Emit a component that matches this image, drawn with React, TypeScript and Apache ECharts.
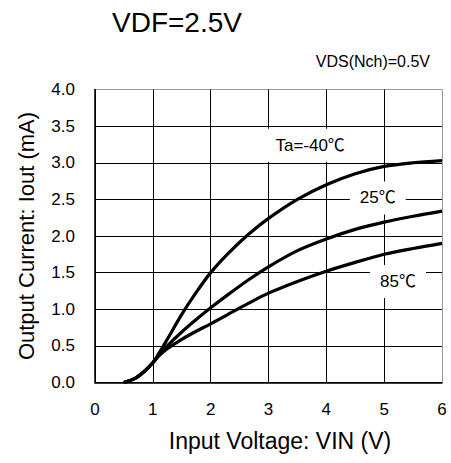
import React, { useEffect, useRef } from "react";
import * as echarts from "echarts";

const vin = [0.5, 0.7, 0.85, 1.0, 1.1, 1.25, 1.5, 1.75, 2.0, 2.3, 2.65, 3.0, 3.5, 4.0, 4.5, 5.0, 5.5, 6.0];
const iMinus40 = [0, 0.06, 0.15, 0.27, 0.39, 0.59, 0.93, 1.23, 1.5, 1.76, 2.02, 2.24, 2.5, 2.7, 2.85, 2.95, 3.0, 3.03];
const i25 = [0, 0.06, 0.15, 0.27, 0.37, 0.5, 0.69, 0.86, 1.02, 1.2, 1.4, 1.58, 1.8, 1.96, 2.09, 2.19, 2.27, 2.34];
const i85 = [0, 0.06, 0.15, 0.27, 0.36, 0.46, 0.59, 0.7, 0.8, 0.93, 1.08, 1.22, 1.38, 1.52, 1.64, 1.75, 1.83, 1.9];
const seriesNames = ["Ta=-40℃", "25℃", "85℃"];
const labelAnchors: [number, number][] = [[3.72, 3.24], [4.89, 2.52], [5.24, 1.38]];

const FONT = "'Liberation Sans', Arial, 'Noto Sans CJK JP', sans-serif";

export default function App() {
  const ref = useRef<HTMLDivElement>(null);
  useEffect(() => {
    if (!ref.current) return;
    const chart = echarts.init(ref.current, null, { renderer: "svg" });
    const curves = [iMinus40, i25, i85];
    const series: any[] = curves.map((arr, k) => ({
      type: "line",
      name: seriesNames[k],
      data: vin.map((x, i) => [x, arr[i]]),
      smooth: 0.3,
      showSymbol: false,
      lineStyle: { color: "#000", width: 3.2 },
      z: 3,
    }));
    series.push({
      type: "scatter",
      data: [],
      silent: true,
      z: 5,
      markPoint: {
        symbol: "rect",
        symbolSize: 0,
        data: labelAnchors.map((c, k) => ({
          coord: c,
          label: {
            show: true,
            position: "inside",
            formatter: seriesNames[k],
            color: "#000",
            fontSize: 17,
            fontFamily: FONT,
            backgroundColor: "#fff",
            padding: [8, 10, 8, 10],
          },
        })),
      },
    });
    const ySplitColors = ["#000", "#000", "#000", "#000", "#000", "#000", "#000", "#000", "#999"];
    const xSplitColors = ["#000", "#000", "#000", "#000", "#000", "#000", "#999"];
    chart.setOption({
      animation: false,
      backgroundColor: "#fff",
      textStyle: { fontFamily: FONT },
      grid: { left: 95, right: 9, top: 89.5, bottom: 80.5, containLabel: false },
      xAxis: {
        type: "value",
        min: 0,
        max: 6,
        interval: 1,
        axisLine: { show: true, lineStyle: { color: "#000", width: 1.5 } },
        axisTick: { show: false },
        axisLabel: { color: "#000", fontSize: 17, fontFamily: FONT, margin: 18 },
        splitLine: { show: true, lineStyle: { color: xSplitColors, width: 1 } },
      },
      yAxis: {
        type: "value",
        min: 0,
        max: 4,
        interval: 0.5,
        name: "Output Current: Iout (mA)",
        nameLocation: "middle",
        nameGap: 58,
        nameTextStyle: { color: "#000", fontSize: 22, fontFamily: FONT },
        axisLine: { show: true, lineStyle: { color: "#000", width: 1.5 } },
        axisTick: { show: false },
        axisLabel: {
          color: "#000",
          fontSize: 17,
          fontFamily: FONT,
          margin: 20,
          formatter: (v: number) => v.toFixed(1),
        },
        splitLine: { show: true, lineStyle: { color: ySplitColors, width: 1 } },
      },
      graphic: [
        {
          type: "text",
          left: 112,
          top: 8,
          style: { text: "VDF=2.5V", fontSize: 28, fontFamily: FONT, fill: "#000" },
        },
        {
          type: "text",
          right: 21,
          top: 53,
          style: { text: "VDS(Nch)=0.5V", fontSize: 16, fontFamily: FONT, fill: "#000" },
        },
        {
          type: "text",
          x: 280,
          y: 441,
          style: {
            text: "Input Voltage: VIN (V)",
            fontSize: 23,
            fontFamily: FONT,
            fill: "#000",
            align: "center",
            verticalAlign: "middle",
          },
        },
      ],
      series,
    });
    return () => chart.dispose();
  }, []);
  return <div ref={ref} style={{ width: 451, height: 463, position: "absolute", left: 0, top: 0 }} />;
}
